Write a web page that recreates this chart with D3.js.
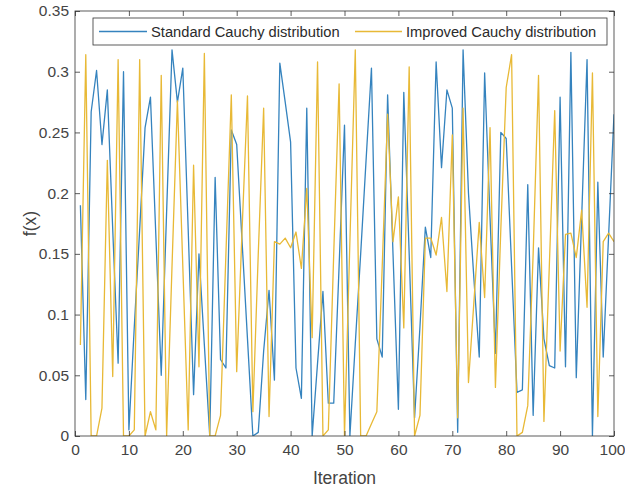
<!DOCTYPE html>
<html>
<head>
<meta charset="utf-8">
<script src="https://cdn.jsdelivr.net/npm/d3@7"></script>
<style>
  html, body { margin: 0; padding: 0; background: #fff; }
  svg { display: block; }
  text { font-family: "Liberation Sans", Arial, sans-serif; }
</style>
</head>
<body>
<svg id="chart" width="625" height="488"></svg>
<script>
// Iteration index 1..100
const iterations = d3.range(1, 101);

// f(x) per iteration, standard Cauchy mutation
const standardCauchy = [
  0.190, 0.030, 0.267, 0.301, 0.240, 0.285, 0.170, 0.060, 0.300, 0.005,
  0.090, 0.170, 0.254, 0.279, 0.165, 0.050, 0.185, 0.318, 0.275, 0.303,
  0.170, 0.034, 0.150, 0.075, 0.000, 0.213, 0.063, 0.056, 0.252, 0.240,
  0.160, 0.080, 0.000, 0.003, 0.070, 0.120, 0.046, 0.307, 0.275, 0.242,
  0.056, 0.031, 0.270, 0.000, 0.060, 0.119, 0.027, 0.027, 0.140, 0.256,
  0.000, 0.076, 0.150, 0.227, 0.303, 0.080, 0.065, 0.281, 0.150, 0.022,
  0.283, 0.150, 0.015, 0.090, 0.172, 0.147, 0.308, 0.221, 0.285, 0.270,
  0.003, 0.318, 0.200, 0.130, 0.065, 0.299, 0.180, 0.068, 0.250, 0.245,
  0.140, 0.036, 0.038, 0.207, 0.017, 0.155, 0.080, 0.058, 0.056, 0.279,
  0.057, 0.316, 0.048, 0.180, 0.310, 0.000, 0.209, 0.065, 0.165, 0.265
];

// f(x) per iteration, improved Cauchy mutation
const improvedCauchy = [
  0.075, 0.314, 0.000, 0.000, 0.023, 0.227, 0.049, 0.310, 0.000, 0.000,
  0.005, 0.310, 0.000, 0.020, 0.005, 0.297, 0.000, 0.140, 0.276, 0.140,
  0.005, 0.223, 0.057, 0.315, 0.000, 0.000, 0.017, 0.150, 0.281, 0.053,
  0.170, 0.280, 0.020, 0.150, 0.270, 0.016, 0.160, 0.158, 0.163, 0.155,
  0.168, 0.138, 0.204, 0.081, 0.308, 0.000, 0.005, 0.150, 0.290, 0.000,
  0.160, 0.318, 0.000, 0.000, 0.010, 0.020, 0.140, 0.265, 0.160, 0.197,
  0.089, 0.304, 0.000, 0.017, 0.163, 0.163, 0.149, 0.180, 0.119, 0.248,
  0.015, 0.270, 0.044, 0.110, 0.176, 0.114, 0.254, 0.040, 0.170, 0.287,
  0.314, 0.000, 0.003, 0.025, 0.150, 0.297, 0.012, 0.140, 0.268, 0.070,
  0.166, 0.167, 0.147, 0.186, 0.106, 0.299, 0.016, 0.160, 0.167, 0.160
];

const seriesNames = ["Standard Cauchy distribution", "Improved Cauchy distribution"];
const xTicks = [0, 10, 20, 30, 40, 50, 60, 70, 80, 90, 100];
const yTicks = [0, 0.05, 0.1, 0.15, 0.2, 0.25, 0.3, 0.35];
const yTickLabels = ["0", "0.05", "0.1", "0.15", "0.2", "0.25", "0.3", "0.35"];

const colors = ["#3583be", "#e8b936"];
const svg = d3.select("#chart");
const plotLeft = 75, plotRight = 614, plotTop = 11, plotBottom = 436;

const x = d3.scaleLinear().domain([0, 100]).range([plotLeft, plotRight]);
const y = d3.scaleLinear().domain([0, 0.35]).range([plotBottom, plotTop]);

const axisColor = "#333333";
const labelColor = "#444444";

// Plot lines (clipped to the axes box)
svg.append("clipPath").attr("id", "plotClip")
  .append("rect").attr("x", plotLeft).attr("y", plotTop)
  .attr("width", plotRight - plotLeft).attr("height", plotBottom - plotTop);

const line = d3.line()
  .x((d, i) => x(iterations[i]))
  .y(d => y(d));

const plot = svg.append("g").attr("clip-path", "url(#plotClip)");
[standardCauchy, improvedCauchy].forEach((vals, k) => {
  plot.append("path")
    .datum(vals)
    .attr("fill", "none")
    .attr("stroke", colors[k])
    .attr("stroke-width", 1.3)
    .attr("stroke-linejoin", "round")
    .attr("d", line);
});

// Axes: inward ticks on all four sides
function styleAxis(g) {
  g.select(".domain").remove();
  g.selectAll(".tick line").attr("stroke", axisColor).attr("stroke-width", 0.8);
  g.selectAll(".tick text")
    .attr("fill", labelColor)
    .style("font-size", "15.5px")
    .style("font-family", "'Liberation Sans', Arial, sans-serif");
}

const xAxisG = svg.append("g")
  .attr("transform", `translate(0,${plotBottom})`)
  .call(d3.axisBottom(x).tickValues(xTicks).tickSizeInner(-5).tickSizeOuter(0).tickPadding(8).tickFormat(d3.format("d")))
  .call(styleAxis);
// keep the last label inside the page edge
xAxisG.selectAll(".tick text").filter(d => d === 100).attr("dx", "-2px");

svg.append("g")
  .attr("transform", `translate(0,${plotTop})`)
  .call(d3.axisTop(x).tickValues(xTicks).tickSizeInner(-5).tickSizeOuter(0).tickFormat(""))
  .call(styleAxis);

svg.append("g")
  .attr("transform", `translate(${plotLeft},0)`)
  .call(d3.axisLeft(y).tickValues(yTicks).tickSizeInner(-5).tickSizeOuter(0).tickPadding(6)
    .tickFormat((d, i) => yTickLabels[i]))
  .call(styleAxis);

svg.append("g")
  .attr("transform", `translate(${plotRight},0)`)
  .call(d3.axisRight(y).tickValues(yTicks).tickSizeInner(-5).tickSizeOuter(0).tickFormat(""))
  .call(styleAxis);

// Axes box
svg.append("rect")
  .attr("x", plotLeft).attr("y", plotTop)
  .attr("width", plotRight - plotLeft).attr("height", plotBottom - plotTop)
  .attr("fill", "none").attr("stroke", axisColor).attr("stroke-width", 0.8);

// Axis titles
svg.append("text")
  .attr("x", (plotLeft + plotRight) / 2).attr("y", 484)
  .attr("text-anchor", "middle")
  .attr("fill", labelColor)
  .style("font-size", "17.5px")
  .text("Iteration");

svg.append("text")
  .attr("transform", `translate(36,${(plotTop + plotBottom) / 2}) rotate(-90)`)
  .attr("text-anchor", "middle")
  .attr("fill", labelColor)
  .style("font-size", "17.5px")
  .text("f(x)");

// Legend
const legend = svg.append("g");
legend.append("rect")
  .attr("x", 93).attr("y", 18)
  .attr("width", 514).attr("height", 27)
  .attr("fill", "#fff").attr("stroke", axisColor).attr("stroke-width", 0.8);

const legendItems = [
  { x0: 99, x1: 147, tx: 151 },
  { x0: 355, x1: 402, tx: 406 }
];
legendItems.forEach((it, k) => {
  legend.append("line")
    .attr("x1", it.x0).attr("x2", it.x1)
    .attr("y1", 31.5).attr("y2", 31.5)
    .attr("stroke", colors[k]).attr("stroke-width", 1.3);
  legend.append("text")
    .attr("x", it.tx).attr("y", 37)
    .attr("fill", "#2b2b2b")
    .style("font-size", "14.7px")
    .text(seriesNames[k]);
});
</script>
</body>
</html>
